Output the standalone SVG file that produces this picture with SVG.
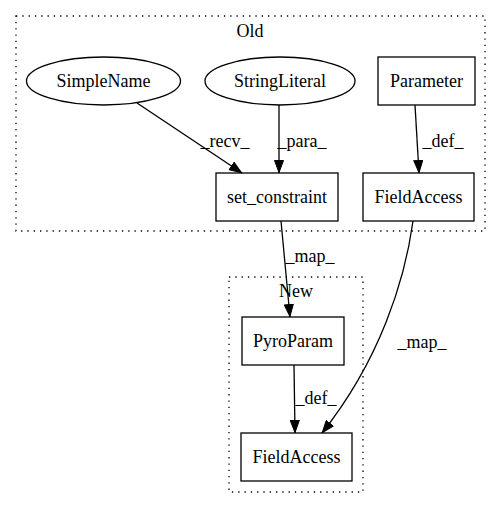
<svg xmlns="http://www.w3.org/2000/svg" width="501" height="508" viewBox="0 0 501 508">
<defs>
<marker id="arr" viewBox="0 0 13 10" refX="13" refY="5" markerWidth="13" markerHeight="10" markerUnits="userSpaceOnUse" orient="auto">
<path d="M0.5,0.5 L12.5,5 L0.5,9.5 Z" fill="#000" stroke="#000" stroke-width="1"/>
</marker>
<style>
text{font-family:"Liberation Serif","Times New Roman",serif;font-size:18px;fill:#000;text-anchor:middle}
.n{fill:#fff;stroke:#000;stroke-width:1.3}
.c{fill:none;stroke:#000;stroke-width:1.3;stroke-dasharray:1.3,5}
.e{fill:none;stroke:#000;stroke-width:1.3;marker-end:url(#arr)}
</style>
</defs>
<rect width="501" height="508" fill="#fff"/>
<g id="cluster_old">
<rect class="c" x="16" y="16" width="469" height="215"/>
<text x="250" y="37">Old</text>
</g>
<g id="cluster_new">
<rect class="c" x="229" y="277" width="134" height="215"/>
<text x="296" y="297">New</text>
</g>
<g id="n_simplename">
<ellipse class="n" cx="103.5" cy="81" rx="77" ry="24"/>
<text x="103.5" y="87">SimpleName</text>
</g>
<g id="n_stringliteral">
<ellipse class="n" cx="280" cy="81" rx="75" ry="24"/>
<text x="280" y="87">StringLiteral</text>
</g>
<g id="n_parameter">
<rect class="n" x="378" y="57" width="97" height="48"/>
<text x="426.5" y="87">Parameter</text>
</g>
<g id="n_setconstraint">
<rect class="n" x="216" y="173" width="122" height="48"/>
<text x="277" y="203">set_constraint</text>
</g>
<g id="n_fieldaccess_old">
<rect class="n" x="363" y="173" width="111" height="48"/>
<text x="418.5" y="203">FieldAccess</text>
</g>
<g id="n_pyroparam">
<rect class="n" x="242" y="317" width="102" height="48"/>
<text x="293" y="347">PyroParam</text>
</g>
<g id="n_fieldaccess_new">
<rect class="n" x="241" y="433" width="111" height="48"/>
<text x="296.5" y="463">FieldAccess</text>
</g>
<g id="connectors">
<path class="e" d="M137,103 L242,173"/>
<text x="225" y="147">_recv_</text>
<path class="e" d="M279,105 L279,173"/>
<text x="302" y="147">_para_</text>
<path class="e" d="M415,105 L419,173"/>
<text x="443" y="147">_def_</text>
<path class="e" d="M281,221 L290,317"/>
<text x="310" y="262">_map_</text>
<path class="e" d="M294,365 L295,433"/>
<text x="316" y="404">_def_</text>
<path class="e" d="M413,221 C405,280 380,360 322,433"/>
<text x="422" y="348">_map_</text>
</g>
</svg>
